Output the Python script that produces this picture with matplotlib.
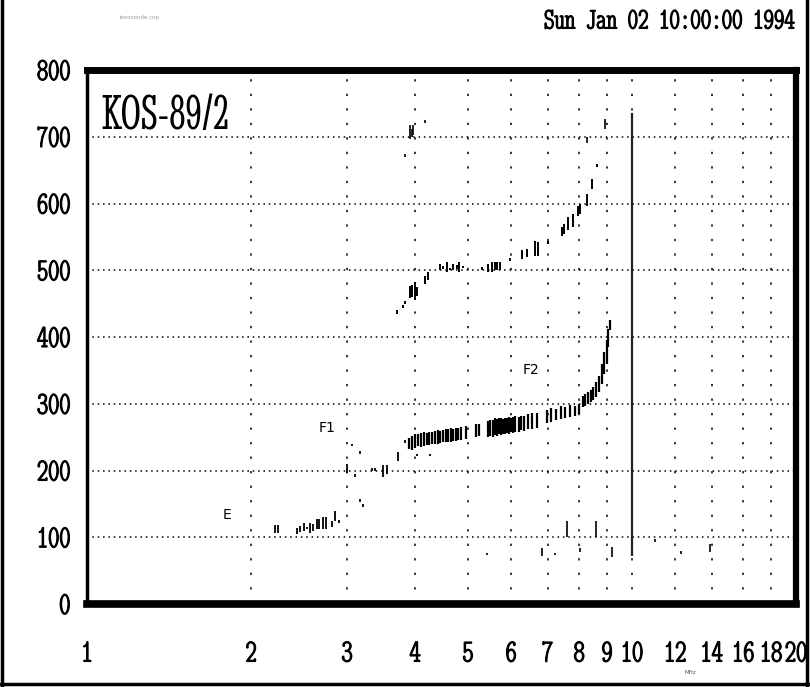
import matplotlib
matplotlib.use('agg')
import matplotlib.pyplot as plt
import matplotlib.patheffects as pe
from matplotlib.lines import Line2D

# ---- data (frequency in MHz, virtual height in km) ----
e_freq = [2.21, 2.24, 2.43, 2.46, 2.50, 2.53, 2.57, 2.60, 2.64, 2.67, 2.71, 2.74, 2.81, 2.85, 2.90]
e_low = [107, 107, 105, 108, 110, 112, 107, 110, 113, 113, 113, 113, 115, 125, 122]
e_high = [119, 119, 114, 117, 121, 116, 122, 120, 128, 128, 130, 130, 125, 140, 126]

f1_freq = [3.00, 3.06, 3.10, 3.17, 3.17, 3.21, 3.33, 3.38, 3.49, 3.55, 3.72, 3.83, 4.03, 4.26]
f1_low = [197, 236, 191, 225, 153, 146, 200, 200, 190, 195, 214, 241, 221, 221]
f1_high = [210, 240, 195, 229, 157, 150, 204, 204, 208, 208, 227, 245, 225, 225]

f2_freq = [3.90, 3.95, 4.00, 4.05, 4.10, 4.15, 4.20, 4.25, 4.30, 4.35, 4.40, 4.45, 4.50, 4.55,
           4.60, 4.65, 4.70, 4.75, 4.80, 4.85, 4.95, 5.18, 5.25, 5.45, 5.50, 5.55, 5.60, 5.65,
           5.70, 5.75, 5.80, 5.85, 5.90, 5.95, 6.00, 6.05, 6.10, 6.20, 6.25, 6.35, 6.45, 6.55,
           6.70, 6.97, 7.10, 7.25, 7.40, 7.55, 7.70, 7.85, 8.00, 8.13, 8.20, 8.30, 8.40, 8.50,
           8.60, 8.70, 8.80, 8.90, 9.00, 9.05, 9.10]
f2_low = [232, 230, 234, 236, 235, 237, 238, 238, 240, 239, 240, 241, 242, 242,
          243, 243, 244, 244, 245, 246, 247, 250, 252, 250, 252, 250, 253, 252,
          254, 253, 255, 254, 256, 255, 257, 256, 258, 258, 260, 259, 262, 262,
          264, 271, 272, 276, 277, 278, 280, 281, 284, 295, 297, 300, 302, 305,
          310, 318, 330, 345, 360, 385, 410]
f2_high = [248, 252, 254, 255, 256, 257, 256, 258, 258, 259, 260, 259, 261, 262,
           262, 263, 262, 264, 264, 265, 266, 270, 270, 274, 276, 276, 278, 277,
           278, 279, 277, 278, 279, 280, 279, 280, 281, 280, 282, 281, 284, 286,
           286, 290, 294, 292, 296, 295, 298, 296, 300, 312, 315, 318, 320, 325,
           332, 342, 360, 378, 396, 412, 425]

# second-hop trace
m2_freq = [3.70, 3.80, 3.83, 3.91, 3.95, 3.99, 4.03, 4.17, 4.22, 4.44, 4.50, 4.57, 4.63, 4.69,
           4.77, 4.81, 4.90, 5.30, 5.44, 5.53, 5.60, 5.65, 5.72, 5.97, 6.28, 6.41, 6.64, 6.72,
           7.00, 7.43, 7.52, 7.62, 7.79, 7.96, 8.03, 8.27, 8.46, 8.63]
m2_low = [435, 444, 450, 458, 460, 456, 461, 479, 485, 500, 502, 498, 500, 500,
          502, 498, 503, 500, 497, 497, 500, 500, 500, 514, 517, 520, 521, 522,
          540, 551, 555, 560, 565, 581, 585, 596, 622, 655]
m2_high = [440, 448, 454, 476, 478, 482, 475, 492, 498, 510, 506, 512, 504, 510,
           508, 512, 507, 505, 510, 512, 512, 512, 512, 518, 530, 532, 544, 542,
           544, 565, 570, 580, 585, 597, 600, 614, 637, 659]

# scattered echoes (high and low)
sc_freq = [3.83, 3.91, 3.94, 3.97, 4.17, 8.27, 8.93,
           5.42, 6.84, 7.21, 7.60, 8.03, 8.59, 9.18, 11.0, 12.3, 13.9]
sc_low = [670, 697, 700, 703, 721, 690, 712,
          73, 72, 73, 100, 78, 100, 70, 93, 75, 78]
sc_high = [674, 717, 712, 718, 725, 700, 727,
           77, 84, 77, 125, 84, 125, 85, 97, 79, 90]

marker_freq = 10.0
marker_range = (72, 735)

x_ticks = [1, 2, 3, 4, 5, 6, 7, 8, 9, 10, 12, 14, 16, 18, 20]
y_ticks = [0, 100, 200, 300, 400, 500, 600, 700, 800]

tick_font = ['Latin Modern Mono Light Cond', 'DejaVu Sans Mono']
bolden = [pe.withStroke(linewidth=0.8, foreground='black')]

fig = plt.figure(figsize=(8.1, 6.87), dpi=100)
ax = fig.add_axes([87 / 810, 1 - 604 / 687, 709 / 810, 534 / 687])

ax.set_xscale('log')
ax.set_xlim(1, 20)
ax.set_ylim(0, 800)
ax.set_xticks(x_ticks)
ax.set_xticklabels([str(t) for t in x_ticks])
ax.set_xticks([], minor=True)
ax.set_yticks(y_ticks)
ax.tick_params(length=0, labelsize=23)
ax.tick_params(axis='x', pad=27)
ax.tick_params(axis='y', pad=12)
for lab in ax.get_xticklabels() + ax.get_yticklabels():
    lab.set_family(tick_font)
    lab.set_path_effects(bolden)

# dotted grid
for h in y_ticks[1:-1]:
    ax.axhline(h, color='black', lw=1.1, ls=(0, (1, 2.5)), zorder=1)
for f in x_ticks[1:-1]:
    ax.axvline(f, color='black', lw=1.1, ls=(0, (1.5, 8)), zorder=1)

# echo traces as short vertical strokes
ax.vlines(e_freq, e_low, e_high, color='black', lw=1.3, zorder=3)
ax.vlines(f1_freq, f1_low, f1_high, color='black', lw=1.3, zorder=3)
ax.vlines(f2_freq, f2_low, f2_high, color='black', lw=1.6, zorder=3)
ax.vlines(m2_freq, m2_low, m2_high, color='black', lw=1.4, zorder=3)
ax.vlines(sc_freq, sc_low, sc_high, color='black', lw=1.2, zorder=3)
ax.vlines(marker_freq, marker_range[0], marker_range[1], color='#222222', lw=1.6, zorder=3)

# thick frame
for side, w in [('top', 5), ('bottom', 5.5), ('right', 4.5), ('left', 2.5)]:
    ax.spines[side].set_linewidth(w)
    ax.spines[side].set_color('black')

ax.text(0.02, 0.912, 'KOS-89/2', transform=ax.transAxes, fontsize=37,
        family=['Stint Ultra Condensed', 'DejaVu Serif'],
        va='center', ha='left', zorder=4)
ax.text(1.81, 134, 'E', fontsize=10, family='DejaVu Sans', va='center', ha='center')
ax.text(2.76, 264, 'F1', fontsize=10, family='DejaVu Sans', va='center', ha='center')
ax.text(6.53, 351, 'F2', fontsize=10, family='DejaVu Sans', va='center', ha='center')

fig.text(796 / 810, 1 - 23 / 687, 'Sun Jan 02 10:00:00 1994', ha='right', va='center',
         fontsize=21.5, family=tick_font, path_effects=bolden)
fig.text(120 / 810, 1 - 17 / 687, 'ionosonde.cop', ha='left', va='center',
         fontsize=4, color='#999999')
fig.text(690 / 810, 1 - 673 / 687, 'MHz', ha='center', va='center',
         fontsize=4, color='#555555')

# page border
fig.add_artist(Line2D([2 / 810, 2 / 810], [0, 1], color='black', lw=2.5))
fig.add_artist(Line2D([807 / 810, 807 / 810], [0, 1], color='black', lw=2.5))
fig.add_artist(Line2D([0, 1], [3 / 687, 3 / 687], color='black', lw=2.5))

fig.savefig('out.png')
